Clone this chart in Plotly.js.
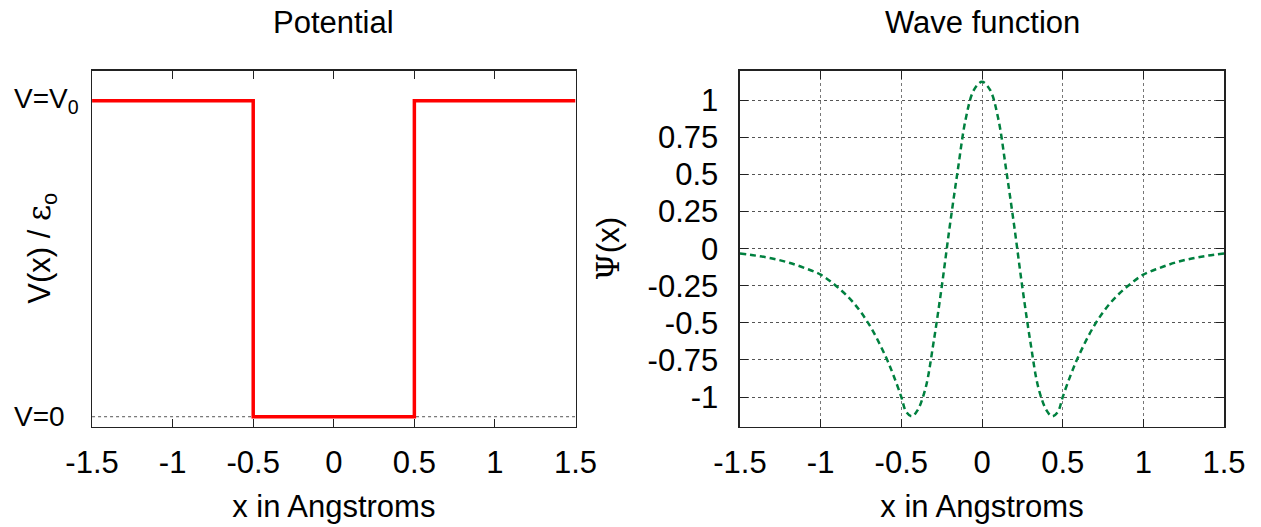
<!DOCTYPE html>
<html>
<head>
<meta charset="utf-8">
<script src="https://cdn.plot.ly/plotly-3.0.1.min.js"></script>
<style>html,body{margin:0;padding:0;background:#fff;}#chart{width:1261px;height:527px;}</style>
</head>
<body>
<div id="chart"></div>
<script>
// Potential (step well)
const xPotential = [-1.5, -0.5, -0.5, 0.5, 0.5, 1.5];
const vPotential = [1, 1, 0, 0, 1, 1];
const potTickVals = [0, 1];
const potTickText = ['V=0', 'V=V<sub>0</sub>'];

// Wave function
const xWave = [-1.5, -1.4, -1.3, -1.2, -1.1, -1.0, -0.9, -0.8, -0.7, -0.6, -0.55, -0.5, -0.47, -0.435, -0.4, -0.35, -0.3, -0.25, -0.2, -0.15, -0.1, -0.05, 0,
               0.05, 0.1, 0.15, 0.2, 0.25, 0.3, 0.35, 0.4, 0.435, 0.47, 0.5, 0.55, 0.6, 0.7, 0.8, 0.9, 1.0, 1.1, 1.2, 1.3, 1.4, 1.5];
const psiWave = [-0.033, -0.047, -0.066, -0.093, -0.13, -0.175, -0.255, -0.36, -0.51, -0.72, -0.85, -1.0, -1.10, -1.13, -1.09, -0.94, -0.63, -0.26, 0.15, 0.53, 0.88, 1.07, 1.125,
                 1.07, 0.88, 0.53, 0.15, -0.26, -0.63, -0.94, -1.09, -1.13, -1.10, -1.0, -0.85, -0.72, -0.51, -0.36, -0.255, -0.175, -0.13, -0.093, -0.066, -0.047, -0.033];
const xTickVals = [-1.5, -1, -0.5, 0, 0.5, 1, 1.5];
const xTickText = ['-1.5', '-1', '-0.5', '0', '0.5', '1', '1.5'];
const psiTickVals = [-1, -0.75, -0.5, -0.25, 0, 0.25, 0.5, 0.75, 1];
const psiTickText = ['-1', '-0.75', '-0.5', '-0.25', '0', '0.25', '0.5', '0.75', '1'];

const FONT = 'Liberation Sans, Arial, sans-serif';
const axisCommon = {
  showline: true, linecolor: '#222', linewidth: 1.5, mirror: 'ticks',
  ticks: 'inside', ticklen: 8, tickwidth: 1, tickcolor: '#222',
  zeroline: false, fixedrange: true,
  tickfont: {family: FONT, size: 31, color: '#000'}
};

const data = [
  {x: xPotential, y: vPotential, xaxis: 'x', yaxis: 'y', type: 'scatter', mode: 'lines',
   line: {color: '#ff0000', width: 3.5}, hoverinfo: 'skip'},
  {x: xWave, y: psiWave, xaxis: 'x2', yaxis: 'y2', type: 'scatter', mode: 'lines',
   line: {color: '#00803f', width: 2.5, dash: '6px,4px', shape: 'spline', smoothing: 1}, hoverinfo: 'skip'}
];

const potLabels = potTickVals.map((v, i) => ({
  text: potTickText[i], xref: 'paper', yref: 'y', x: 12 / 1261, y: v,
  xanchor: 'left', yanchor: 'middle', showarrow: false,
  font: {family: FONT, size: 28, color: '#000'}
}));

const layout = {
  width: 1261, height: 527,
  margin: {l: 0, r: 0, t: 0, b: 0},
  paper_bgcolor: '#fff', plot_bgcolor: '#fff',
  showlegend: false,
  font: {family: FONT, color: '#000'},
  xaxis: Object.assign({}, axisCommon, {
    domain: [0.0730, 0.4564], range: [-1.5, 1.5],
    tickvals: xTickVals, ticktext: xTickText, showgrid: false,
    ticklabelstandoff: 8,
    title: {text: 'x in Angstroms', font: {family: FONT, size: 31}, standoff: 16}
  }),
  yaxis: Object.assign({}, axisCommon, {
    domain: [0.1903, 0.8659], range: [-0.0316, 1.095],
    tickvals: potTickVals, showticklabels: false, ticks: '', showgrid: false
  }),
  xaxis2: Object.assign({}, axisCommon, {
    domain: [0.5868, 0.9707], range: [-1.5, 1.5], anchor: 'y2',
    tickvals: xTickVals, ticktext: xTickText,
    showgrid: true, gridcolor: '#777', griddash: 'dot', gridwidth: 1,
    ticklabelstandoff: 8,
    title: {text: 'x in Angstroms', font: {family: FONT, size: 31}, standoff: 16}
  }),
  yaxis2: Object.assign({}, axisCommon, {
    domain: [0.1903, 0.8659], range: [-1.2, 1.2], anchor: 'x2',
    tickvals: psiTickVals, ticktext: psiTickText,
    showgrid: true, gridcolor: '#555', griddash: 'dot', gridwidth: 1,
    ticklabelstandoff: 14,
    title: {text: '<span style="font-family:DejaVu Serif">Ψ</span>(x)', font: {family: FONT, size: 31}, standoff: 18}
  }),
  shapes: [
    {type: 'line', xref: 'x', yref: 'y', x0: -1.5, x1: 1.5, y0: 0, y1: 0,
     line: {color: '#555', width: 1, dash: 'dot'}, layer: 'below'}
  ],
  annotations: potLabels.concat([
    {text: 'V(x) / <span style="font-family:DejaVu Serif">ε</span><sub>o</sub>', xref: 'paper', yref: 'paper',
     x: 42 / 1261, y: 0.528, textangle: -90, showarrow: false, xanchor: 'center', yanchor: 'middle',
     font: {family: FONT, size: 31, color: '#000'}},
    {text: 'Potential', xref: 'x domain', yref: 'paper', x: 0.5, y: 0.958, showarrow: false,
     xanchor: 'center', yanchor: 'middle', font: {family: FONT, size: 31, color: '#000'}},
    {text: 'Wave function', xref: 'x2 domain', yref: 'paper', x: 0.5, y: 0.958, showarrow: false,
     xanchor: 'center', yanchor: 'middle', font: {family: FONT, size: 31, color: '#000'}}
  ])
};

Plotly.newPlot('chart', data, layout, {displayModeBar: false, staticPlot: true});
</script>
</body>
</html>
